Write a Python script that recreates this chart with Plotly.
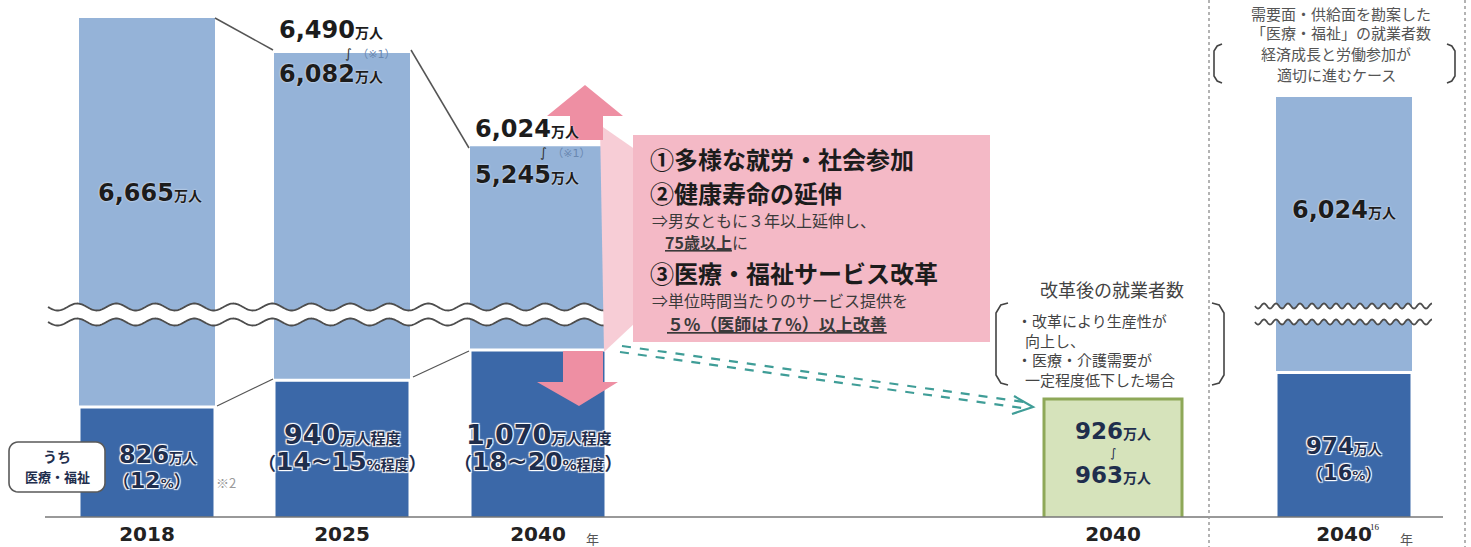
import numpy as np
import plotly.graph_objects as go

W, H = 1471, 547
BASE = 517  # pixel row of the baseline

# ---------------- data ----------------
years = ["2018", "2025", "2040"]
total_upper = [6665, 6490, 6024]          # 就業者数 (upper estimate)
total_lower = [None, 6082, 5245]          # lower estimate
medical = [826, 940, 1070]                # うち医療・福祉
medical_share = ["12", "14~15", "18~20"]  # %
reform_range = [926, 963]                 # 改革後の就業者数
right_total = [6024]
right_medical = [974]
right_share = ["16"]
tick_labels = ["2018", "2025", "2040", "2040", "2040"]

# ---------------- layout constants ----------------
x_pos = [147, 342, 538]
x_reform = [1113]
x_right = [1344]
bar_w = 136

LIGHT = "#95b3d8"
DARK = "#3b68a8"
GREEN_F = "#d6e3bb"
GREEN_L = "#8ea858"
PINK_BOX = "#f4b9c6"
PINK_ARW = "#ee8fa3"
PINK_WEDGE = "#f7cdd6"
TXT = "#1c1c1c"
NAVY = "#1f2e4d"
JP = "Noto Sans CJK JP"
NUM = "DejaVu Sans, Noto Sans CJK JP"


def P(x, y):
    return x / W, 1 - y / H


def path(pts, close=True):
    s = "M " + " L ".join(f"{P(x, y)[0]:.5f},{P(x, y)[1]:.5f}" for x, y in pts)
    return s + (" Z" if close else "")


fig = go.Figure()

# light (total) bars – left panel
fig.add_trace(go.Bar(x=x_pos, y=total_upper, width=bar_w, marker=dict(color=LIGHT, line=dict(width=0)),
                     xaxis="x", yaxis="y", hoverinfo="skip"))
# light bar – right panel
fig.add_trace(go.Bar(x=x_right, y=right_total, width=bar_w, marker=dict(color=LIGHT, line=dict(width=0)),
                     xaxis="x", yaxis="y2", hoverinfo="skip"))
# dark (medical/welfare) bars
fig.add_trace(go.Bar(x=x_pos + x_right, y=medical + right_medical, width=bar_w,
                     marker=dict(color=DARK, line=dict(color="white", width=3)),
                     xaxis="x", yaxis="y3", hoverinfo="skip"))
# green reform box
fig.add_trace(go.Bar(x=x_reform, y=[reform_range[1]], width=138,
                     marker=dict(color=GREEN_F, line=dict(color=GREEN_L, width=3)),
                     xaxis="x", yaxis="y4", hoverinfo="skip"))

shapes = []


def line(x0, y0, x1, y1, color="#555", width=1.5, dash="solid"):
    a, b = P(x0, y0)
    c, d = P(x1, y1)
    shapes.append(dict(type="line", xref="paper", yref="paper", x0=a, y0=b, x1=c, y1=d,
                       line=dict(color=color, width=width, dash=dash), layer="above"))


def poly(pts, fill, lc=None, lw=0, close=True):
    shapes.append(dict(type="path", xref="paper", yref="paper", path=path(pts, close),
                       fillcolor=fill if close else None,
                       line=dict(color=lc or "rgba(0,0,0,0)", width=lw), layer="above"))


# baseline
line(45, BASE, 1443, BASE, "#777", 1.5)

# connector lines
line(215, 18, 273, 50, "#555", 1.5)
line(411, 50, 469, 148, "#555", 1.5)
line(217, 406, 273, 379, "#555", 1.2)
line(413, 377, 469, 351, "#555", 1.2)


# wavy break lines
def wave_pts(x0, x1, yc, period, amp, n=500):
    xs = np.linspace(x0, x1, n)
    ys = yc + amp * np.sin(2 * np.pi * (xs - x0) / period)
    return list(zip(xs, ys))


for (x0, x1, y_a, y_b, per, amp) in [(48, 612, 307, 322, 39, 3.5), (1255, 1432, 306, 322, 12, 2.5)]:
    up = wave_pts(x0, x1, y_a, per, amp)
    lo = wave_pts(x0, x1, y_b, per, amp)
    poly(up + lo[::-1], "white")
    poly(up, None, "#4d4d4d", 1.8, close=False)
    poly(lo, None, "#4d4d4d", 1.8, close=False)

# pink wedge, arrows, box
poly([(600, 125), (636, 150), (636, 322), (604, 352)], PINK_WEDGE)
poly([(585, 85), (623, 116), (603, 116), (603, 140), (570, 140), (570, 116), (547, 116)], PINK_ARW)
poly([(563, 351), (603, 351), (603, 382), (618, 382), (579, 406), (537, 382), (563, 382)], PINK_ARW)
poly([(633, 135), (990, 135), (990, 342), (633, 342)], PINK_BOX)

# teal dashed arrow
line(622, 346, 1024, 402, "#3f9d97", 2.2, "dash")
line(620, 352, 1022, 408, "#3f9d97", 2.2, "dash")
poly([(1014, 396), (1033, 407), (1012, 414)], None, "#3f9d97", 2.2, close=False)


# brackets
def bracket(x, y0, y1, side, dx=12, r=10):
    s = -1 if side == "left" else 1
    pts = [(x, y0), (x + s * dx * 0.6, y0 + 2), (x + s * dx, y0 + r), (x + s * dx, y1 - r),
           (x + s * dx * 0.6, y1 - 2), (x, y1)]
    poly(pts, None, "#444", 1.6, close=False)


bracket(1008, 303, 385, "left")
bracket(1212, 303, 385, "right")
bracket(1222, 44, 83, "left", dx=8, r=7)
bracket(1447, 44, 83, "right", dx=8, r=7)

# dotted separators
line(1209, 0, 1209, H, "#9a9a9a", 1.5, "dot")
line(1465, 0, 1465, H, "#9a9a9a", 1.5, "dot")


# うち医療・福祉 rounded box
def rounded(x0, y0, x1, y1, r, n=8):
    pts = []
    for cx, cy, a0 in [(x1 - r, y0 + r, -90), (x1 - r, y1 - r, 0), (x0 + r, y1 - r, 90), (x0 + r, y0 + r, 180)]:
        for t in np.linspace(a0, a0 + 90, n):
            pts.append((cx + r * np.cos(np.radians(t)), cy + r * np.sin(np.radians(t))))
    return pts


poly(rounded(9, 442, 105, 492, 9), "white", "#5a5a5a", 1.6)

annotations = []
GLOW = "1px 1px 1px #fff, -1px -1px 1px #fff, 1px -1px 1px #fff, -1px 1px 1px #fff"


def A(text, x, y, size=14, color=TXT, family=NUM, xanchor="center", shadow=None, xref="x"):
    f = dict(size=size, color=color, family=family)
    if shadow:
        f["shadow"] = shadow
    annotations.append(dict(text=text, x=x, y=1 - y / H, xref=xref, yref="paper",
                            xanchor=xanchor, yanchor="middle", showarrow=False, font=f))


def man(v, big=24, small=14):
    return f"<b><span style='font-size:{big}px'>{v:,}</span><span style='font-size:{small}px'>万人</span></b>"


def man_range_note():
    return ("<span style='font-size:13px;color:#333'>∫</span>"
            "<span style='font-size:11px;color:#6a88b0'>　（※1）</span>")


# total labels
A(man(total_upper[0]), x_pos[0] + 3, 193, shadow="0 0 2px #fff")
A(man(total_upper[1]), 277, 30, xanchor="left")
A(man_range_note(), 370, 53, size=12)
A(man(total_lower[1]), 277, 74, xanchor="left", shadow="0 0 2px #fff")
A(man(total_upper[2]), 473, 129, xanchor="left", shadow="0 0 2px #fff")
A(man_range_note(), 565, 152, size=12)
A(man(total_lower[2]), 473, 175, xanchor="left", shadow="0 0 2px #fff")

# medical labels
A(f"<b><span style='font-size:24px'>{medical[0]}</span><span style='font-size:14px'>万人</span></b>",
  x_pos[0] + 11, 455, color=NAVY, shadow=GLOW)
A(f"<b><span style='font-size:17px'>（</span><span style='font-size:22px'>{medical_share[0]}</span>"
  f"<span style='font-size:13px'>%</span><span style='font-size:17px'>）</span></b>",
  x_pos[0] + 5, 480, color=NAVY, shadow=GLOW)
A("※2", 226, 482, size=13, color="#9a9a9a", family=JP)
for i in (1, 2):
    A(f"<b><span style='font-size:27px'>{medical[i]:,}</span><span style='font-size:15px'>万人程度</span></b>",
      x_pos[i], 434, color=NAVY, shadow=GLOW)
    A(f"<b><span style='font-size:18px'>（</span><span style='font-size:25px'>{medical_share[i]}</span>"
      f"<span style='font-size:14px'>%程度</span><span style='font-size:18px'>）</span></b>",
      x_pos[i], 461, color=NAVY, shadow=GLOW)

A("<b>うち</b>", 57, 456, size=14, color=NAVY, family=JP)
A("<b>医療・福祉</b>", 57, 476, size=13, color=NAVY, family=JP)

# pink box texts
A("<b>①多様な就労・社会参加</b>", 648, 158, size=24, family=JP, xanchor="left")
A("<b>②健康寿命の延伸</b>", 648, 192, size=24, family=JP, xanchor="left")
A("⇒男女ともに３年以上延伸し、", 650, 220, size=16, color="#3a3a3a", family=JP, xanchor="left")
A("<b><u>75歳以上</u></b>に", 663, 242, size=16, color="#3a3a3a", family=JP, xanchor="left")
A("<b>③医療・福祉サービス改革</b>", 648, 272, size=24, family=JP, xanchor="left")
A("⇒単位時間当たりのサービス提供を", 650, 300, size=16, color="#3a3a3a", family=JP, xanchor="left")
A("<b><u>５%（医師は７%）以上改善</u></b>", 665, 323, size=17, color="#3a3a3a", family=JP, xanchor="left")

# reform area texts
A("改革後の就業者数", 1112, 289, size=18, color="#444", family=JP)
A("・改革により生産性が", 1015, 320, size=15, color="#444", family=JP, xanchor="left")
A("向上し、", 1023, 340, size=15, color="#444", family=JP, xanchor="left")
A("・医療・介護需要が", 1015, 359, size=15, color="#444", family=JP, xanchor="left")
A("一定程度低下した場合", 1023, 379, size=15, color="#444", family=JP, xanchor="left")
A(man(reform_range[0], 23, 14), x_reform[0], 431, color=NAVY)
A("∫", x_reform[0], 453, size=12, color=NAVY)
A(man(reform_range[1], 23, 14), x_reform[0], 475, color=NAVY)

# right panel texts
A("需要面・供給面を勘案した", 1341, 13, size=15, color="#555", family=JP)
A("「医療・福祉」の就業者数", 1341, 33, size=15, color="#555", family=JP)
A("経済成長と労働参加が", 1336, 54, size=15, color="#555", family=JP)
A("適切に進むケース", 1336, 74, size=15, color="#555", family=JP)
A(man(right_total[0]), x_right[0], 210, shadow="0 0 2px #fff")
A(f"<b><span style='font-size:23px'>{right_medical[0]}</span><span style='font-size:14px'>万人</span></b>",
  x_right[0], 446, color=NAVY, shadow=GLOW)
A(f"<b><span style='font-size:16px'>（</span><span style='font-size:21px'>{right_share[0]}</span>"
  f"<span style='font-size:13px'>%</span><span style='font-size:16px'>）</span></b>",
  x_right[0], 473, color=NAVY, shadow=GLOW)

# axis extras
A("年", 592, 538, size=13, color="#555", family=JP)
A("年", 1406, 538, size=13, color="#555", family=JP)
A("16", 1375, 527, size=9, color="#222", family="Liberation Serif")

fig.update_layout(
    width=W, height=H, margin=dict(l=0, r=0, t=0, b=0),
    paper_bgcolor="white", plot_bgcolor="white", showlegend=False, barmode="overlay",
    xaxis=dict(range=[0, W], domain=[0, 1], showgrid=False, zeroline=False, showline=False,
               tickmode="array", tickvals=x_pos + x_reform + x_right,
               ticktext=[f"<b>{t}</b>" for t in tick_labels], ticks="", ticklabelstandoff=3,
               tickfont=dict(family=NUM, size=20, color="#222")),
    yaxis=dict(range=[4170, 6755], domain=[(H - BASE) / H, 1], visible=False),
    yaxis2=dict(range=[3924, 6509], overlaying="y", visible=False),
    yaxis3=dict(range=[355, 2568], overlaying="y", visible=False),
    yaxis4=dict(range=[355, 3020], overlaying="y", visible=False),
    shapes=shapes, annotations=annotations,
)

fig.write_html("out.html", config={"displayModeBar": False},
               post_script="document.body.style.margin='0px';document.body.style.overflow='hidden';")
